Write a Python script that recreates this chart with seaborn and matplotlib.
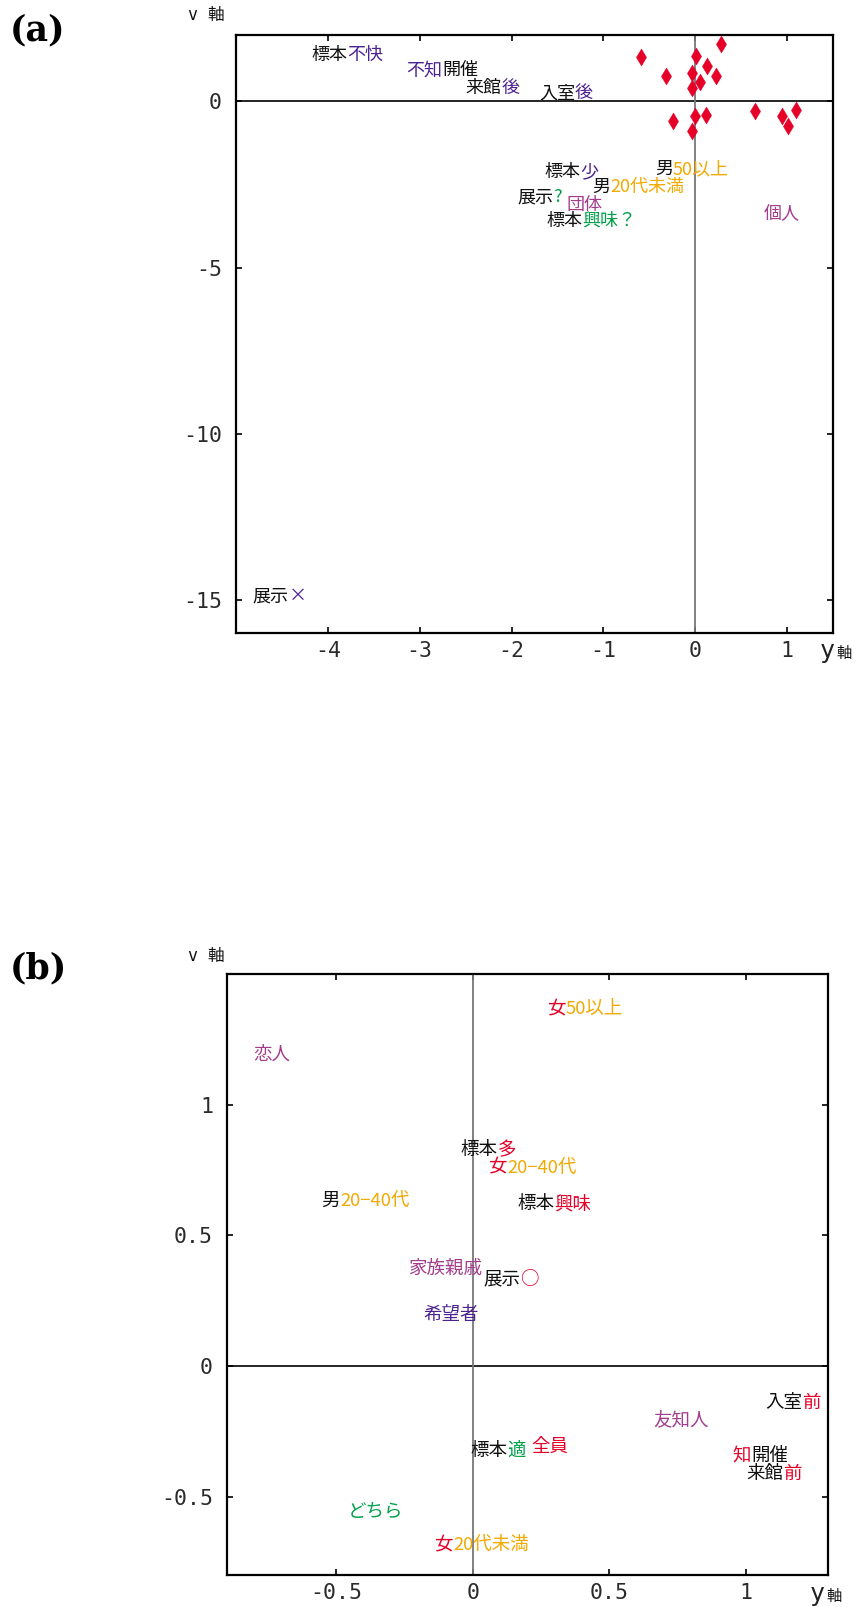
import numpy as np
import pandas as pd
import matplotlib
matplotlib.use("Agg")
import matplotlib.pyplot as plt
import seaborn as sns

# ---- data: panel (a) ----
# red diamonds (unlabelled category points)
a_pts_x = [0.28, -0.59, 0.01, 0.13, -0.32, -0.04, 0.23, 0.05, -0.04,
           0.65, 1.10, 0.95, 0.00, 0.12, -0.24, 1.01, -0.04]
a_pts_y = [1.74, 1.34, 1.36, 1.08, 0.76, 0.87, 0.76, 0.59, 0.40,
           -0.30, -0.27, -0.44, -0.44, -0.41, -0.60, -0.75, -0.90]

# labelled points: text is split in two coloured parts joined at (x, y)
a_prefix = ["標本", "不知", "来館", "入室", "標本", "男", "男", "展示", "", "標本", "", "展示"]
a_suffix = ["不快", "開催", "後", "後", "少", "20代未満", "50以上", "?", "団体", "興味？", "個人", "×"]
a_pre_col = ["black", "purple", "black", "black", "black", "black", "black", "black", "black", "black", "black", "black"]
a_suf_col = ["purple", "black", "purple", "purple", "purple", "orange", "orange", "green", "magenta", "green", "magenta", "purple"]
a_x = [-3.785, -2.75, -2.11, -1.31, -1.248, -0.928, -0.243, -1.547, -1.40, -1.23, 0.746, -4.43]
a_y = [1.39, 0.94, 0.39, 0.24, -2.12, -2.57, -2.04, -2.89, -3.12, -3.60, -3.40, -14.9]

# ---- data: panel (b) ----
b_prefix = ["恋人", "男", "女", "標本", "女", "標本", "家族親戚", "展示", "希望者",
            "入室", "", "標本", "", "知", "来館", "女", ""]
b_suffix = ["", "20−40代", "50以上", "多", "20−40代", "興味", "", "○", "",
            "前", "友知人", "適", "全員", "開催", "前", "20代未満", "どちら"]
b_pre_col = ["magenta", "black", "red", "black", "red", "black", "magenta", "black", "purple",
             "black", "black", "black", "black", "red", "black", "red", "black"]
b_suf_col = ["black", "orange", "orange", "red", "orange", "red", "black", "red", "black",
             "red", "magenta", "green", "red", "black", "red", "orange", "green"]
b_x = [-0.67, -0.486, 0.338, 0.0916, 0.1245, 0.299, 0.033, 0.173, 0.021,
       1.205, 0.659, 0.128, 0.2136, 1.019, 1.136, -0.073, -0.457]
b_y = [1.19, 0.63, 1.366, 0.826, 0.758, 0.618, 0.371, 0.33, 0.196,
       -0.141, -0.207, -0.326, -0.31, -0.344, -0.414, -0.687, -0.559]

palette = {
    "black": "#111111",
    "purple": "#4b2391",
    "orange": "#f2a900",
    "magenta": "#a23c8c",
    "green": "#00a04a",
    "red": "#e60028",
}

sns.set_style("ticks")
plt.rcParams["font.family"] = ["Noto Sans CJK JP", "DejaVu Sans"]

W, H = 860, 1607
fig = plt.figure(figsize=(W / 100, H / 100), dpi=100)


def fx(px):
    return px / W


def fy(py):
    return 1 - py / H


ax1 = fig.add_axes([fx(236), fy(633), fx(833) - fx(236), fy(35) - fy(633)])
ax2 = fig.add_axes([fx(227), fy(1575), fx(828) - fx(227), fy(974) - fy(1575)])

mono = ["DejaVu Sans Mono", "Noto Sans CJK JP"]


def style_axes(ax, xlim, ylim, xticks, yticks, xlabels, ylabels):
    ax.axhline(0, color="black", lw=1.2, zorder=1)
    ax.axvline(0, color="#777777", lw=1.3, zorder=1)
    ax.set_xlim(*xlim)
    ax.set_ylim(*ylim)
    ax.set_xticks(xticks)
    ax.set_yticks(yticks)
    ax.set_xticklabels(xlabels, family=mono, fontsize=15.5, color="#2a2a2a")
    ax.set_yticklabels(ylabels, family=mono, fontsize=15.5, color="#2a2a2a")
    ax.tick_params(direction="in", length=4, width=1.2, top=True, right=True,
                   color="black")
    ax.tick_params(axis="x", pad=6)
    ax.tick_params(axis="y", pad=10)
    for s in ax.spines.values():
        s.set_linewidth(1.6)
        s.set_color("black")
    ax.set_xlabel("")
    ax.set_ylabel("")


def two_part_labels(ax, prefix, suffix, pre_col, suf_col, xs, ys, size=13.3):
    for p, s, cp, cs, x, y in zip(prefix, suffix, pre_col, suf_col, xs, ys):
        if p:
            ax.text(x, y, p, color=palette[cp], ha="right", va="center",
                    fontsize=size, zorder=3)
        if s:
            ax.text(x, y, s, color=palette[cs], ha="left", va="center",
                    fontsize=size, zorder=3)


# panel (a)
df_a = pd.DataFrame({"x": a_pts_x, "y": a_pts_y})
sns.scatterplot(data=df_a, x="x", y="y", ax=ax1, marker="d", s=75,
                color=palette["red"], edgecolor=palette["red"], linewidth=0.3,
                zorder=3)
style_axes(ax1, (-5, 1.5), (-16, 2), [-4, -3, -2, -1, 0, 1], [0, -5, -10, -15],
           ["-4", "-3", "-2", "-1", "0", "1"], ["0", "-5", "-10", "-15"])
two_part_labels(ax1, a_prefix, a_suffix, a_pre_col, a_suf_col, a_x, a_y, size=13)

# panel (b)
style_axes(ax2, (-0.9, 1.3), (-0.8, 1.5), [-0.5, 0, 0.5, 1], [-0.5, 0, 0.5, 1],
           ["-0.5", "0", "0.5", "1"], ["-0.5", "0", "0.5", "1"])
two_part_labels(ax2, b_prefix, b_suffix, b_pre_col, b_suf_col, b_x, b_y)

# panel tags and axis names
for tag, py in [("(a)", 30), ("(b)", 968)]:
    fig.text(fx(10), fy(py), tag, family=["DejaVu Serif"],
             fontweight="bold", fontsize=25, ha="left", va="center", color="black")

for py in [15, 956]:
    fig.text(fx(206), fy(py), "v 軸", family=mono, fontsize=12, ha="center",
             va="center", color="#111111")

for px, py in [(820, 651), (810, 1594)]:
    fig.text(fx(px), fy(py), "y", family=mono, fontsize=18, ha="left",
             va="center", color="#222222")
    fig.text(fx(px + 16), fy(py + 2), "軸", fontsize=11, ha="left",
             va="center", color="#111111")

fig.savefig("out.png", dpi=100)
